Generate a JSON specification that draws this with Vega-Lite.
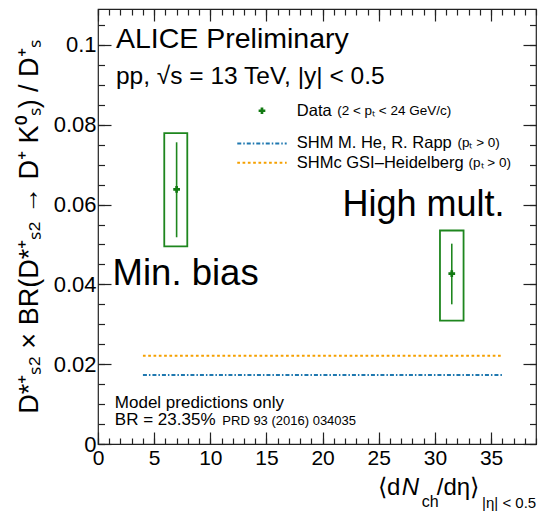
{
  "$schema": "https://vega.github.io/schema/vega-lite/v6.json",
  "width": 438,
  "height": 435,
  "autosize": "none",
  "padding": {"left": 98, "top": 9, "right": 2, "bottom": 67},
  "background": "white",
  "config": {
    "view": {"stroke": "#222", "strokeWidth": 1.2},
    "font": "Liberation Sans",
    "axis": {"domain": false, "grid": false, "tickColor": "#222", "labelColor": "black", "labelFont": "Liberation Sans", "titleFont": "Liberation Sans", "titleColor": "black", "titleFontWeight": "normal", "labelFlush": false}
  },
  "resolve": {"axis": {"x": "independent", "y": "independent"}},
  "layer": [
    {
      "data": {"values": [{"model": "SHM M. He, R. Rapp", "x1": 4, "x2": 36, "y": 0.0173}]},
      "mark": {"type": "rule", "color": "#1f78b0", "strokeWidth": 2, "strokeDash": [4, 2, 1.5, 2]},
      "encoding": {
        "x": {"field": "x1", "type": "quantitative", "scale": {"domain": [0, 39], "nice": false, "zero": false},
              "axis": {"orient": "bottom", "values": [0, 5, 10, 15, 20, 25, 30, 35], "tickSize": -12, "tickWidth": 1.2, "labelFontSize": 21, "labelPadding": 15, "labelFlush": false, "title": null}},
        "x2": {"field": "x2"},
        "y": {"field": "y", "type": "quantitative", "scale": {"domain": [0, 0.109], "nice": false, "zero": false},
              "axis": {"orient": "left", "values": [0, 0.02, 0.04, 0.06, 0.08, 0.1], "format": ".2~f", "tickSize": -13, "tickWidth": 1.2, "labelFontSize": 22, "labelPadding": 15, "labelFlush": false,
                       "title": "D*⁺ₛ₂ × BR(D*⁺ₛ₂ → D⁺ K⁰ₛ) / D⁺ₛ", "titleFontSize": 27, "titlePadding": 10, "titleAnchor": "middle"}}
      }
    },
    {
      "data": {"values": [{"model": "SHMc GSI-Heidelberg", "x1": 4, "x2": 36, "y": 0.0221}]},
      "mark": {"type": "rule", "color": "#f5a000", "strokeWidth": 2, "strokeDash": [2.7, 2.6]},
      "encoding": {
        "x": {"field": "x1", "type": "quantitative",
              "axis": {"orient": "bottom", "values": [0,1,2,3,4,5,6,7,8,9,10,11,12,13,14,15,16,17,18,19,20,21,22,23,24,25,26,27,28,29,30,31,32,33,34,35,36,37,38,39], "tickSize": -6, "tickWidth": 1.2, "labels": false, "title": null}},
        "x2": {"field": "x2"},
        "y": {"field": "y", "type": "quantitative",
              "axis": {"orient": "left", "values": [0,0.005,0.01,0.015,0.02,0.025,0.03,0.035,0.04,0.045,0.05,0.055,0.06,0.065,0.07,0.075,0.08,0.085,0.09,0.095,0.1,0.105], "tickSize": -6.5, "tickWidth": 1.2, "labels": false, "title": null}}
      }
    },
    {
      "data": {"values": [
        {"sample": "Min. bias", "x1": 5.9, "x2": 7.95, "y1": 0.0495, "y2": 0.0779},
        {"sample": "High mult.", "x1": 30.45, "x2": 32.55, "y1": 0.0309, "y2": 0.0535}
      ]},
      "mark": {"type": "rect", "fillOpacity": 0, "stroke": "#1e861e", "strokeWidth": 1.8},
      "encoding": {
        "x": {"field": "x1", "type": "quantitative",
              "axis": {"orient": "top", "values": [0, 5, 10, 15, 20, 25, 30, 35], "tickSize": -12, "tickWidth": 1.2, "labels": false, "title": null}},
        "x2": {"field": "x2"},
        "y": {"field": "y1", "type": "quantitative",
              "axis": {"orient": "right", "values": [0, 0.02, 0.04, 0.06, 0.08, 0.1], "tickSize": -13, "tickWidth": 1.2, "labels": false, "title": null}},
        "y2": {"field": "y2"}
      }
    },
    {
      "data": {"values": [
        {"sample": "Min. bias", "x": 7.0, "ylo": 0.0518, "yhi": 0.0756},
        {"sample": "High mult.", "x": 31.5, "ylo": 0.035, "yhi": 0.0502}
      ]},
      "mark": {"type": "rule", "color": "#1e861e", "strokeWidth": 1.6},
      "encoding": {
        "x": {"field": "x", "type": "quantitative",
              "axis": {"orient": "top", "values": [0,1,2,3,4,5,6,7,8,9,10,11,12,13,14,15,16,17,18,19,20,21,22,23,24,25,26,27,28,29,30,31,32,33,34,35,36,37,38,39], "tickSize": -6, "tickWidth": 1.2, "labels": false, "title": null}},
        "y": {"field": "ylo", "type": "quantitative",
              "axis": {"orient": "right", "values": [0,0.005,0.01,0.015,0.02,0.025,0.03,0.035,0.04,0.045,0.05,0.055,0.06,0.065,0.07,0.075,0.08,0.085,0.09,0.095,0.1,0.105], "tickSize": -6.5, "tickWidth": 1.2, "labels": false, "title": null}},
        "y2": {"field": "yhi"}
      }
    },
    {
      "data": {"values": [
        {"sample": "Min. bias", "x": 7.0, "y": 0.0638},
        {"sample": "High mult.", "x": 31.5, "y": 0.0427},
        {"sample": "legend", "x": 14.6, "y": 0.0835}
      ]},
      "mark": {"type": "point", "shape": "cross", "filled": true, "color": "#127a12", "size": 45, "opacity": 1},
      "encoding": {
        "x": {"field": "x", "type": "quantitative", "axis": null},
        "y": {"field": "y", "type": "quantitative", "axis": null}
      }
    },
    {
      "data": {"values": [{"x1": 12.4, "x2": 16.8, "y": 0.0753}]},
      "mark": {"type": "rule", "color": "#1f78b0", "strokeWidth": 2, "strokeDash": [4, 2, 1.5, 2]},
      "encoding": {
        "x": {"field": "x1", "type": "quantitative", "axis": null},
        "x2": {"field": "x2"},
        "y": {"field": "y", "type": "quantitative", "axis": null}
      }
    },
    {
      "data": {"values": [{"x1": 12.4, "x2": 16.8, "y": 0.0705}]},
      "mark": {"type": "rule", "color": "#f5a000", "strokeWidth": 2, "strokeDash": [2.7, 2.6]},
      "encoding": {
        "x": {"field": "x1", "type": "quantitative", "axis": null},
        "x2": {"field": "x2"},
        "y": {"field": "y", "type": "quantitative", "axis": null}
      }
    },
    {
      "data": {"values": [{"text": "ALICE Preliminary", "x": 1.6, "y": 0.0993}]},
      "mark": {"type": "text", "align": "left", "baseline": "alphabetic", "fontSize": 28.5, "color": "black"},
      "encoding": {"x": {"field": "x", "type": "quantitative", "axis": null}, "y": {"field": "y", "type": "quantitative", "axis": null}, "text": {"field": "text"}}
    },
    {
      "data": {"values": [{"text": "pp, √s = 13 TeV, |y| < 0.5", "x": 1.6, "y": 0.0902}]},
      "mark": {"type": "text", "align": "left", "baseline": "alphabetic", "fontSize": 24.5, "color": "black"},
      "encoding": {"x": {"field": "x", "type": "quantitative", "axis": null}, "y": {"field": "y", "type": "quantitative", "axis": null}, "text": {"field": "text"}}
    },
    {
      "data": {"values": [{"text": "High mult.", "x": 21.76, "y": 0.05725}]},
      "mark": {"type": "text", "align": "left", "baseline": "alphabetic", "fontSize": 36, "color": "black"},
      "encoding": {"x": {"field": "x", "type": "quantitative", "axis": null}, "y": {"field": "y", "type": "quantitative", "axis": null}, "text": {"field": "text"}}
    },
    {
      "data": {"values": [{"text": "Min. bias", "x": 1.3, "y": 0.0399}]},
      "mark": {"type": "text", "align": "left", "baseline": "alphabetic", "fontSize": 36.5, "color": "black"},
      "encoding": {"x": {"field": "x", "type": "quantitative", "axis": null}, "y": {"field": "y", "type": "quantitative", "axis": null}, "text": {"field": "text"}}
    },
    {
      "data": {"values": [
        {"text": "Data", "x": 17.7, "y": 0.0835},
        {"text": "SHM M. He, R. Rapp", "x": 17.7, "y": 0.0753},
        {"text": "SHMc GSI–Heidelberg", "x": 17.7, "y": 0.0705}
      ]},
      "mark": {"type": "text", "align": "left", "baseline": "middle", "fontSize": 16.5, "color": "black"},
      "encoding": {"x": {"field": "x", "type": "quantitative", "axis": null}, "y": {"field": "y", "type": "quantitative", "axis": null}, "text": {"field": "text"}}
    },
    {
      "data": {"values": [
        {"text": "(2 < pₜ < 24 GeV/c)", "x": 21.3, "y": 0.0835},
        {"text": "(pₜ > 0)", "x": 32.0, "y": 0.0753},
        {"text": "(pₜ > 0)", "x": 33.0, "y": 0.0705}
      ]},
      "mark": {"type": "text", "align": "left", "baseline": "middle", "fontSize": 13.5, "color": "black"},
      "encoding": {"x": {"field": "x", "type": "quantitative", "axis": null}, "y": {"field": "y", "type": "quantitative", "axis": null}, "text": {"field": "text"}}
    },
    {
      "data": {"values": [
        {"text": "Model predictions only", "x": 1.5, "y": 0.009},
        {"text": "BR = 23.35%", "x": 1.5, "y": 0.00475}
      ]},
      "mark": {"type": "text", "align": "left", "baseline": "alphabetic", "fontSize": 17, "color": "black"},
      "encoding": {"x": {"field": "x", "type": "quantitative", "axis": null}, "y": {"field": "y", "type": "quantitative", "axis": null}, "text": {"field": "text"}}
    },
    {
      "data": {"values": [{"text": "PRD 93 (2016) 034035", "x": 11.07, "y": 0.00475}]},
      "mark": {"type": "text", "align": "left", "baseline": "alphabetic", "fontSize": 13, "color": "black"},
      "encoding": {"x": {"field": "x", "type": "quantitative", "axis": null}, "y": {"field": "y", "type": "quantitative", "axis": null}, "text": {"field": "text"}}
    },
    {
      "data": {"values": [{"text": "⟨d", "x": 24.93, "y": -0.01278}, {"text": "/dη⟩", "x": 30.16, "y": -0.01278}]},
      "mark": {"type": "text", "align": "left", "baseline": "alphabetic", "fontSize": 24, "color": "black", "clip": false},
      "encoding": {"x": {"field": "x", "type": "quantitative", "axis": null}, "y": {"field": "y", "type": "quantitative", "axis": null}, "text": {"field": "text"}}
    },
    {
      "data": {"values": [{"text": "N", "x": 27.04, "y": -0.01278}]},
      "mark": {"type": "text", "align": "left", "baseline": "alphabetic", "fontSize": 24, "fontStyle": "italic", "color": "black", "clip": false},
      "encoding": {"x": {"field": "x", "type": "quantitative", "axis": null}, "y": {"field": "y", "type": "quantitative", "axis": null}, "text": {"field": "text"}}
    },
    {
      "data": {"values": [{"text": "ch", "x": 28.82, "y": -0.0158}]},
      "mark": {"type": "text", "align": "left", "baseline": "alphabetic", "fontSize": 16, "color": "black", "clip": false},
      "encoding": {"x": {"field": "x", "type": "quantitative", "axis": null}, "y": {"field": "y", "type": "quantitative", "axis": null}, "text": {"field": "text"}}
    },
    {
      "data": {"values": [{"text": "|η| < 0.5", "x": 34.2, "y": -0.016}]},
      "mark": {"type": "text", "align": "left", "baseline": "alphabetic", "fontSize": 15, "color": "black", "clip": false},
      "encoding": {"x": {"field": "x", "type": "quantitative", "axis": null}, "y": {"field": "y", "type": "quantitative", "axis": null}, "text": {"field": "text"}}
    }
  ]
}
